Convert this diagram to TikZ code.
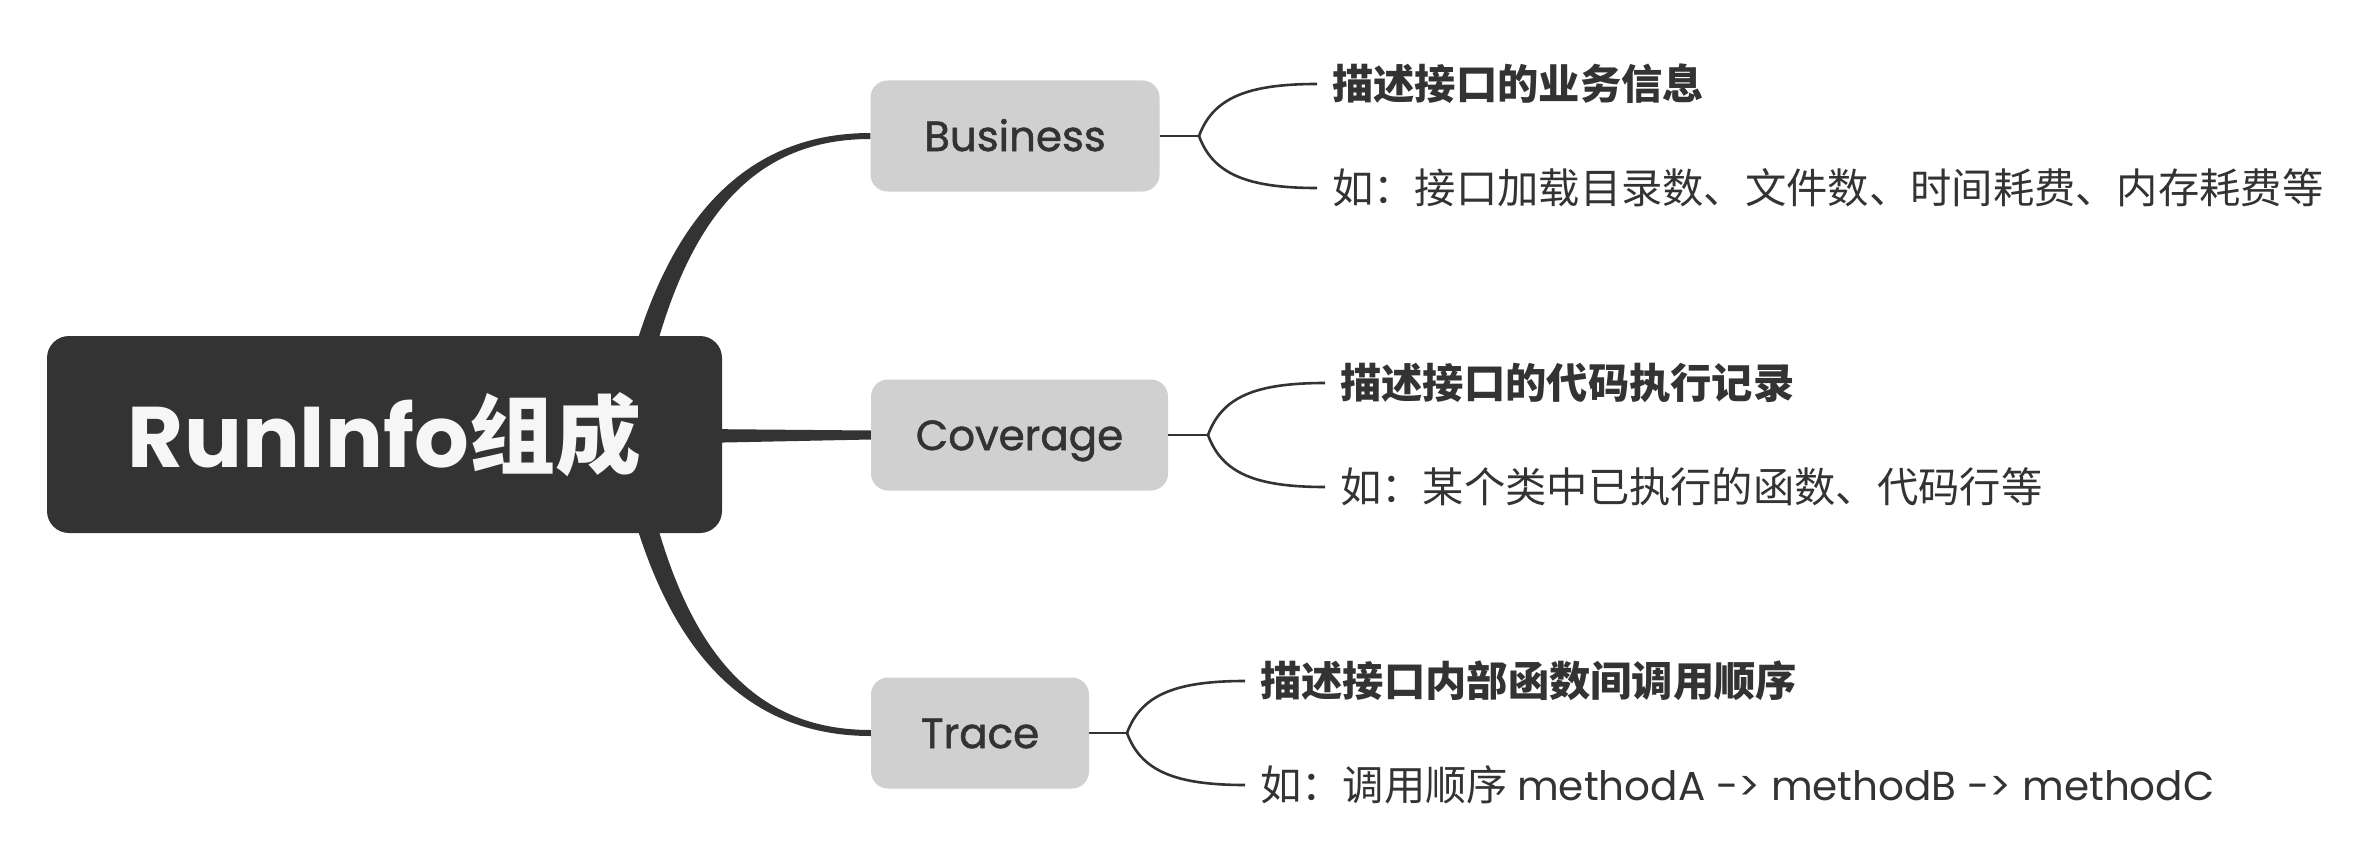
\documentclass[tikz,border=0pt]{standalone}
\usepackage{fontspec}
\setmainfont{Poppins}
\newfontfamily\cjk{Noto Sans CJK SC}
\newfontfamily\lat{Poppins}
\newfontfamily\latmed[FakeBold=1.3]{Poppins}
\usetikzlibrary{calc}
\definecolor{dark}{HTML}{333333}
\definecolor{boxgray}{HTML}{D0D0D0}
\definecolor{lighttext}{HTML}{F6F6F6}
\begin{document}
\begin{tikzpicture}[x=1pt,y=-1pt,
  rootbox/.style={fill=dark,rounded corners=22pt,minimum width=675pt,minimum height=197pt,inner sep=0pt,text=lighttext,font=\fontsize{86}{86}\selectfont\bfseries},
  topicbox/.style={fill=boxgray,rounded corners=17pt,minimum height=111pt,inner sep=0pt,text height=30pt,text depth=0pt,text=dark,font=\fontsize{42}{42}\selectfont\latmed},
  leaf/.style={anchor=west,inner sep=0pt,text=dark,font=\fontsize{41.3}{41.3}\selectfont\cjk},
  leafbold/.style={anchor=west,inner sep=0pt,text=dark,font=\fontsize{41.3}{41.3}\selectfont\cjk\bfseries},
  thinline/.style={draw=dark,line width=2.6pt},
]
\useasboundingbox (0,0) rectangle (2360,864);
% topics
\node[topicbox,minimum width=289pt] (bus) at (1015,136) {Business};
\node[topicbox,minimum width=297pt] (cov) at (1019.5,435) {Coverage};
\node[topicbox,minimum width=218pt] (tra) at (980,733) {Trace};
% main branches
\fill[dark] ($(bus.west)+(0,-3)$) .. controls (740,133) and (652,226) .. (615,434) -- (637,434) .. controls (672,234) and (742,139) .. ($(bus.west)+(0,3)$) -- cycle;
\fill[dark] ($(tra.west)+(0,3)$) .. controls (740,736) and (652,643) .. (615,435) -- (637,435) .. controls (672,635) and (742,730) .. ($(tra.west)+(0,-3)$) -- cycle;
\fill[dark] (700,429) -- ($(cov.west)+(0,-4.5)$) -- ($(cov.west)+(0,4.5)$) -- (700,443) -- cycle;
% root
\node[rootbox] (root) at (384.5,434.5) {{\lat RunInfo}{\cjk 组成}};
% leaves
\node[leafbold] (b1) at (1332,84) {描述接口的业务信息};
\node[leaf] (b2) at (1332,188) {如：接口加载目录数、文件数、时间耗费、内存耗费等};
\node[leafbold] (c1) at (1340,383) {描述接口的代码执行记录};
\node[leaf] (c2) at (1340,487) {如：某个类中已执行的函数、代码行等};
\node[leafbold] (t1) at (1260,681) {描述接口内部函数间调用顺序};
\node[leaf] (t2) at (1260,785) {如：调用顺序\ {\lat\fontsize{40.5}{40.5}\selectfont methodA -> methodB -> methodC}};
% forks
\coordinate (bf) at (1199,136);
\coordinate (cf) at (1208,435);
\coordinate (tf) at (1127,733);
\coordinate (b1e) at ($(b1.west)+(-15,0)$);
\coordinate (b2e) at ($(b2.west)+(-15,0)$);
\coordinate (c1e) at ($(c1.west)+(-15,0)$);
\coordinate (c2e) at ($(c2.west)+(-15,0)$);
\coordinate (t1e) at ($(t1.west)+(-15,0)$);
\coordinate (t2e) at ($(t2.west)+(-15,0)$);
\draw[thinline] (bus.east) -- (bf);
\draw[thinline] (cov.east) -- (cf);
\draw[thinline] (tra.east) -- (tf);
\foreach \f/\e/\s in {bf/b1e/-1,bf/b2e/1,cf/c1e/-1,cf/c2e/1,tf/t1e/-1,tf/t2e/1}{
  \draw[thinline] (\f) .. controls ($(\f)+(14,\s*38)$) and ($(\e)+(-70,0)$) .. (\e);
}
\end{tikzpicture}
\end{document}
